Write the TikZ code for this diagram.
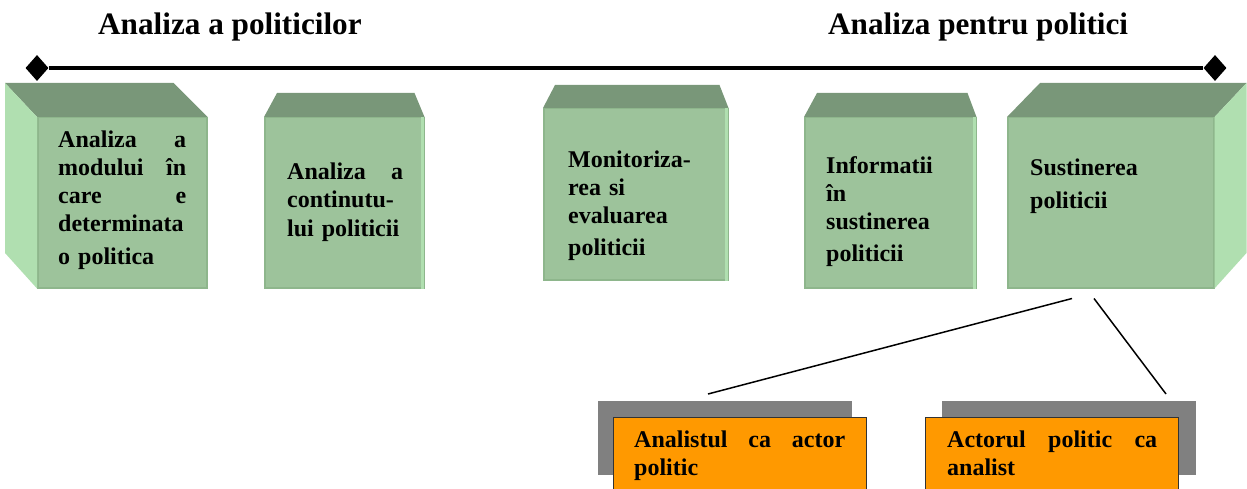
\documentclass[tikz,border=0pt]{standalone}
\usepackage{fontspec}
\setmainfont{Liberation Serif}
\usetikzlibrary{positioning,calc,shapes.geometric}

\definecolor{frontgreen}{RGB}{157,195,155}
\definecolor{topgreen}{RGB}{121,151,121}
\definecolor{sidegreen}{RGB}{176,223,176}
\definecolor{edgegreen}{RGB}{142,182,140}
\definecolor{boxorange}{RGB}{255,153,0}
\definecolor{shadowgray}{RGB}{128,128,128}

\tikzset{
  front/.style={fill=frontgreen, draw=edgegreen, line width=1.5pt, inner sep=0pt, anchor=north west},
  boxtext/.style={font=\bfseries\fontsize{24}{28}\selectfont, inner sep=0pt, align=left, anchor=north west},
  heading/.style={font=\bfseries\fontsize{31.2}{36}\selectfont, inner sep=0pt, anchor=base west},
  endmark/.style={diamond, fill=black, inner sep=0pt, minimum width=23pt, minimum height=26pt},
  shadowbox/.style={fill=shadowgray, inner sep=0pt, anchor=north west, minimum width=254pt, minimum height=74pt},
  rolebox/.style={fill=boxorange, draw=black!80, line width=1.2pt, inner sep=0pt, anchor=north west, minimum width=253pt, minimum height=90pt},
}

\begin{document}
\begin{tikzpicture}[x=1pt, y=-1pt]
  \useasboundingbox (0,0) rectangle (1247,489);

  % Titluri
  \node[heading] (hleft) at (98,35) {Analiza a politicilor};
  \node[heading] (hright) at (828,35) {Analiza pentru politici};

  % Axa
  \node[endmark] (axa1) at (37,68) {};
  \node[endmark] (axa2) at (1215,68) {};
  \draw[line width=4pt] (axa1) -- (axa2);

  % Cutii (fata)
  \node[front, minimum width=169pt, minimum height=170pt] (b1) at (37,117) {};
  \node[front, minimum width=159pt, minimum height=170pt] (b2) at (264,117) {};
  \node[front, minimum width=184pt, minimum height=171pt] (b3) at (543,108) {};
  \node[front, minimum width=171pt, minimum height=170pt] (b4) at (804,117) {};
  \node[front, minimum width=206pt, minimum height=170pt] (b5) at (1007,117) {};

  % Fete de sus si laterale
  \fill[topgreen] (b1.north west) -- ++(-32,-34) -- ($(b1.north east)+(-34,-34)$) -- (b1.north east) -- cycle;
  \fill[sidegreen] (b1.north west) -- ++(-32,-34) -- ++(0,170) -- (b1.south west) -- cycle;
  \fill[topgreen] (b2.north west) -- ++(13,-24) -- ($(b2.north east)+(-10,-24)$) -- (b2.north east) -- cycle;
  \fill[topgreen] (b3.north west) -- ++(12,-23) -- ($(b3.north east)+(-9,-23)$) -- (b3.north east) -- cycle;
  \fill[topgreen] (b4.north west) -- ++(13,-24) -- ($(b4.north east)+(-9,-24)$) -- (b4.north east) -- cycle;
  \fill[topgreen] (b5.north west) -- ++(33,-34) -- ($(b5.north east)+(32,-34)$) -- (b5.north east) -- cycle;
  \fill[sidegreen] (b5.north east) -- ++(32,-34) -- ++(0,170) -- (b5.south east) -- cycle;
  \foreach \b in {b2,b3,b4}
    \draw[sidegreen, line width=3pt] ([xshift=-2pt]\b.north east) -- ([xshift=-2pt]\b.south east);

  % Texte
  \node[boxtext, text width=128pt, below right=10.4pt and 21pt of b1.north west] (t1)
    {\strut Analiza\hfill a\\ modului\hfill în\\ care\hfill e\\ determinata\\[5pt] o politica};
  \node[boxtext, text width=116pt, below right=43pt and 23pt of b2.north west] (t2)
    {\strut Analiza\hfill a\\ continutu-\\[1pt] lui politicii};
  \node[boxtext, text width=150pt, below right=39.4pt and 25pt of b3.north west] (t3)
    {\strut Monitoriza-\\ rea si\\ evaluarea\\[4pt] politicii};
  \node[boxtext, text width=140pt, below right=36.4pt and 22pt of b4.north west] (t4)
    {\strut Informatii\\ în\\ sustinerea\\[4pt] politicii};
  \node[boxtext, text width=160pt, below right=38.4pt and 23pt of b5.north west] (t5)
    {\strut Sustinerea\\[5pt] politicii};

  % Rolurile analistului
  \node[shadowbox] (g1) at (598,401) {};
  \node[rolebox] (a1) at (613,417) {};
  \node[boxtext, text width=211pt, below right=10.4pt and 21pt of a1.north west] (r1)
    {\strut Analistul\hfill ca\hfill actor\\ politic};
  \node[shadowbox] (g2) at (942,401) {};
  \node[rolebox] (a2) at (925,417) {};
  \node[boxtext, text width=210pt, below right=10.4pt and 22pt of a2.north west] (r2)
    {\strut Actorul\hfill politic\hfill ca\\ analist};

  % Legaturi
  \draw[line width=1.5pt] ($(b5.south west)+(65,10)$) -- ($(g1.north west)+(110,-7)$);
  \draw[line width=1.5pt] ($(b5.south west)+(87,10)$) -- ($(g2.north west)+(224,-7)$);
\end{tikzpicture}
\end{document}
